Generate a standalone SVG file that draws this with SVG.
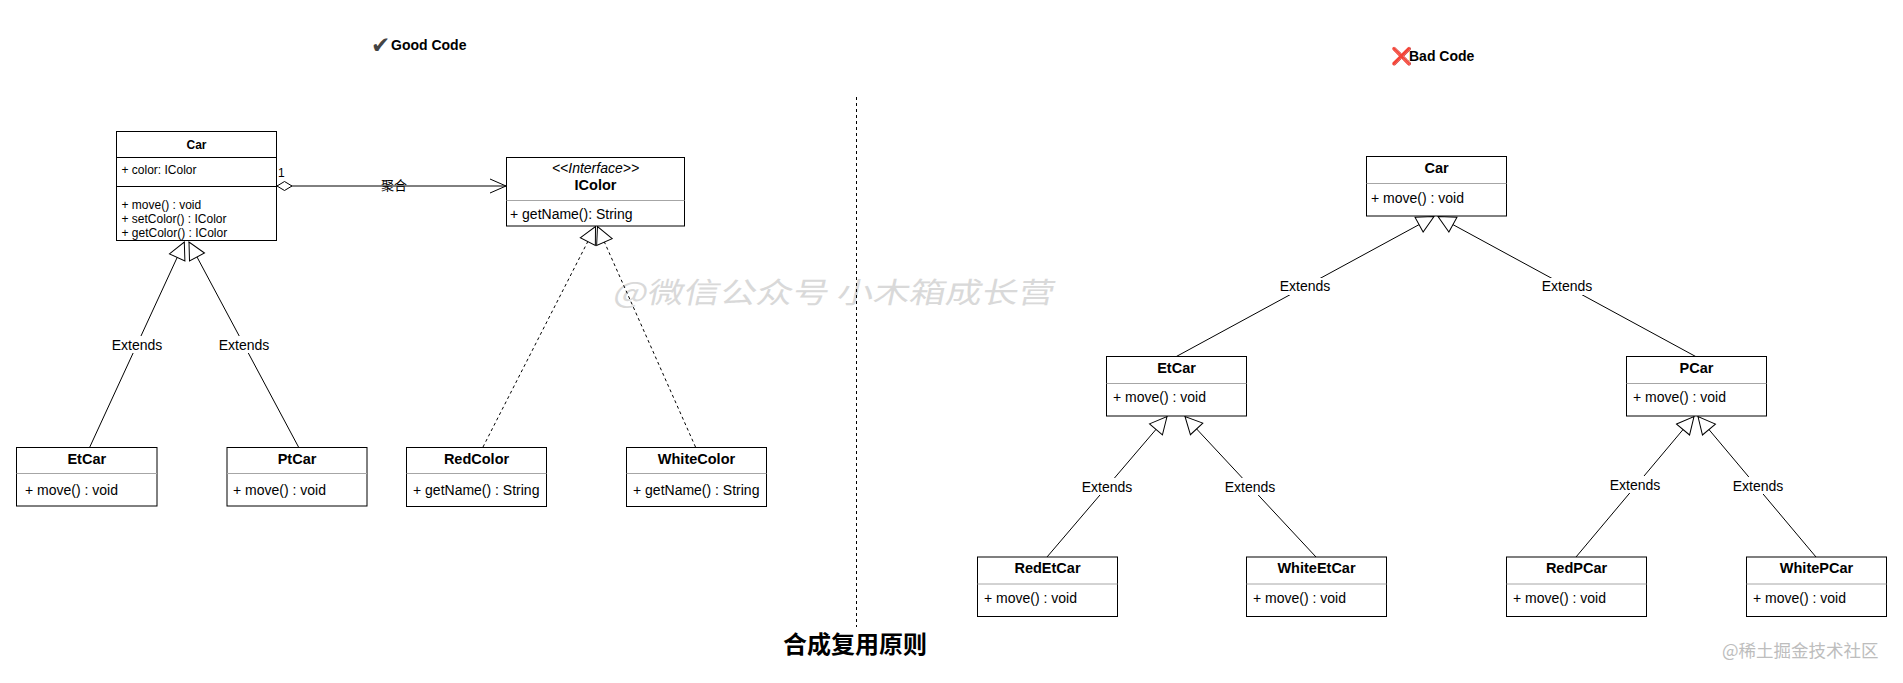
<svg xmlns="http://www.w3.org/2000/svg" width="1903" height="683" viewBox="0 0 1903 683">
<style>
text{font-family:"Liberation Sans",Arial,Helvetica,sans-serif;fill:#000}
.box{fill:#fff;stroke:#000;stroke-width:1}
.div{stroke:#a6a6a6;stroke-width:1}
.divb{stroke:#000;stroke-width:1}
.t{font-size:14.5px;font-weight:bold;text-anchor:middle}
.b{font-size:14px}
.s{font-size:12px}
.st{font-size:12px;font-weight:bold;text-anchor:middle}
.lbl{font-size:14px;text-anchor:middle}
.lbg{fill:#fff}
.edge{fill:none;stroke:#000;stroke-width:1}
.gen{marker-end:url(#gen)}
.dash{stroke-dasharray:3 3}
.cjk{font-family:"Noto Sans CJK SC","Noto Sans",sans-serif}
</style>
<defs>
<marker id="gen" markerUnits="userSpaceOnUse" markerWidth="20" markerHeight="20" refX="17" refY="8.5" orient="auto" overflow="visible">
<path d="M0,0 L17,8.5 L0,17 Z" fill="#fff" stroke="#000" stroke-width="1"/>
</marker>
<marker id="open" markerUnits="userSpaceOnUse" markerWidth="18" markerHeight="16" refX="16" refY="7" orient="auto" overflow="visible">
<path d="M0,0 L16,7 L0,14" fill="none" stroke="#000" stroke-width="1"/>
</marker>
<marker id="dia" markerUnits="userSpaceOnUse" markerWidth="16" markerHeight="10" refX="0" refY="4.5" orient="auto" overflow="visible">
<path d="M0,4.5 L7.5,0 L15,4.5 L7.5,9 Z" fill="#fff" stroke="#000" stroke-width="1"/>
</marker>
</defs>
<rect width="1903" height="683" fill="#fff"/>

<!-- watermark -->
<text class="cjk" transform="translate(612,303) skewX(-12) scale(1.25,1)" font-size="29" style="fill:#d9d9d9">@微信公众号 小木箱成长营</text>

<!-- titles -->
<g id="title-good">
<text x="371" y="53" style="font-family:'DejaVu Sans',sans-serif;font-size:23px;fill:#444">✔</text>
<text x="391" y="50" style="font-size:14px;font-weight:bold">Good Code</text>
</g>
<g id="title-bad">
<text x="1391" y="62" style="font-family:'DejaVu Sans',sans-serif;font-size:17px;fill:#e3201b">❌</text>
<text x="1409" y="60.5" style="font-size:14px;font-weight:bold">Bad Code</text>
</g>

<!-- connectors -->
<g id="connectors">
<line x1="856.5" y1="97" x2="856.5" y2="627" class="edge dash"/>
<path class="edge" d="M277,186 L506,186" marker-start="url(#dia)" marker-end="url(#open)"/>
<path class="edge gen" d="M89.8,447 L184.3,242"/>
<path class="edge gen" d="M298.5,447 L189,242"/>
<path class="edge gen dash" d="M483,447 L595.5,226.5"/>
<path class="edge gen dash" d="M695.5,447 L597.5,226.5"/>
<path class="edge gen" d="M1176,356.7 L1434,216.5"/>
<path class="edge gen" d="M1696,356.7 L1438,216.5"/>
<path class="edge gen" d="M1047,557 L1167,416.5"/>
<path class="edge gen" d="M1316,557 L1185,416.5"/>
<path class="edge gen" d="M1576,557 L1694,416.5"/>
<path class="edge gen" d="M1816,557 L1698,416.5"/>
<!-- labels -->
<text x="278" y="176.5" class="s">1</text>
<text x="394" y="189.5" class="cjk" font-size="13" text-anchor="middle">聚合</text>
<rect class="lbg" x="110" y="336" width="54" height="17"/><text x="137" y="349.5" class="lbl">Extends</text>
<rect class="lbg" x="217" y="336" width="54" height="17"/><text x="244" y="349.5" class="lbl">Extends</text>
<rect class="lbg" x="1278" y="278" width="54" height="17"/><text x="1305" y="291.3" class="lbl">Extends</text>
<rect class="lbg" x="1540" y="278" width="54" height="17"/><text x="1567" y="291.3" class="lbl">Extends</text>
<rect class="lbg" x="1080" y="478" width="54" height="17"/><text x="1107" y="491.5" class="lbl">Extends</text>
<rect class="lbg" x="1223" y="478" width="54" height="17"/><text x="1250" y="491.5" class="lbl">Extends</text>
<rect class="lbg" x="1608" y="476" width="54" height="17"/><text x="1635" y="489.8" class="lbl">Extends</text>
<rect class="lbg" x="1731" y="477" width="54" height="17"/><text x="1758" y="490.8" class="lbl">Extends</text>
</g>

<!-- Good code nodes -->
<g id="car-good">
<rect class="box" x="116.5" y="131.5" width="160" height="109"/>
<line class="divb" x1="116.5" y1="157.5" x2="276.5" y2="157.5"/>
<line class="divb" x1="116.5" y1="186.5" x2="276.5" y2="186.5"/>
<text x="196.5" y="149" class="st">Car</text>
<text x="121.5" y="174" class="s">+ color: IColor</text>
<text x="121.5" y="208.5" class="s">+ move() : void</text>
<text x="121.5" y="222.5" class="s">+ setColor() : IColor</text>
<text x="121.5" y="236.5" class="s">+ getColor() : IColor</text>
</g>
<g id="icolor">
<rect class="box" x="506.5" y="157.5" width="178" height="68.5"/>
<line class="div" x1="506.5" y1="200.5" x2="684.5" y2="200.5"/>
<text x="595.5" y="172.5" class="b" text-anchor="middle" font-style="italic">&lt;&lt;Interface&gt;&gt;</text>
<text x="595.5" y="190" class="t">IColor</text>
<text x="510" y="219" class="b">+ getName(): String</text>
</g>
<g id="etcar-good">
<rect class="box" x="16.5" y="447.5" width="140.5" height="58.5"/>
<line class="div" x1="16.5" y1="473.5" x2="157" y2="473.5"/>
<text x="86.75" y="464" class="t">EtCar</text>
<text x="25" y="494.5" class="b">+ move() : void</text>
</g>
<g id="ptcar">
<rect class="box" x="227" y="447.5" width="140" height="58.5"/>
<line class="div" x1="227" y1="473.5" x2="367" y2="473.5"/>
<text x="297" y="464" class="t">PtCar</text>
<text x="233" y="494.5" class="b">+ move() : void</text>
</g>
<g id="redcolor">
<rect class="box" x="406.5" y="447.5" width="140" height="59"/>
<line class="div" x1="406.5" y1="473.5" x2="546.5" y2="473.5"/>
<text x="476.5" y="464" class="t">RedColor</text>
<text x="413" y="495" class="b">+ getName() : String</text>
</g>
<g id="whitecolor">
<rect class="box" x="626.5" y="447.5" width="140" height="59"/>
<line class="div" x1="626.5" y1="473.5" x2="766.5" y2="473.5"/>
<text x="696.5" y="464" class="t">WhiteColor</text>
<text x="633" y="495" class="b">+ getName() : String</text>
</g>

<!-- Bad code nodes -->
<g id="car-bad">
<rect class="box" x="1366.5" y="156.5" width="140" height="59.5"/>
<line class="div" x1="1366.5" y1="183.5" x2="1506.5" y2="183.5"/>
<text x="1436.5" y="173" class="t">Car</text>
<text x="1371" y="202.5" class="b">+ move() : void</text>
</g>
<g id="etcar-bad">
<rect class="box" x="1106.5" y="356.5" width="140" height="59.5"/>
<line class="div" x1="1106.5" y1="383.5" x2="1246.5" y2="383.5"/>
<text x="1176.5" y="372.5" class="t">EtCar</text>
<text x="1113" y="402" class="b">+ move() : void</text>
</g>
<g id="pcar">
<rect class="box" x="1626.5" y="356.5" width="140" height="59.5"/>
<line class="div" x1="1626.5" y1="383.5" x2="1766.5" y2="383.5"/>
<text x="1696.5" y="372.5" class="t">PCar</text>
<text x="1633" y="402" class="b">+ move() : void</text>
</g>
<g id="redetcar">
<rect class="box" x="977.5" y="557" width="140" height="59.5"/>
<line class="div" x1="977.5" y1="584" x2="1117.5" y2="584"/>
<text x="1047.5" y="573" class="t">RedEtCar</text>
<text x="984" y="602.5" class="b">+ move() : void</text>
</g>
<g id="whiteetcar">
<rect class="box" x="1246.5" y="557" width="140" height="59.5"/>
<line class="div" x1="1246.5" y1="584" x2="1386.5" y2="584"/>
<text x="1316.5" y="573" class="t">WhiteEtCar</text>
<text x="1253" y="602.5" class="b">+ move() : void</text>
</g>
<g id="redpcar">
<rect class="box" x="1506.5" y="557" width="140" height="59.5"/>
<line class="div" x1="1506.5" y1="584" x2="1646.5" y2="584"/>
<text x="1576.5" y="573" class="t">RedPCar</text>
<text x="1513" y="602.5" class="b">+ move() : void</text>
</g>
<g id="whitepcar">
<rect class="box" x="1746.5" y="557" width="140" height="59.5"/>
<line class="div" x1="1746.5" y1="584" x2="1886.5" y2="584"/>
<text x="1816.5" y="573" class="t">WhitePCar</text>
<text x="1753" y="602.5" class="b">+ move() : void</text>
</g>

<!-- footer -->
<g id="footer">
<text x="855" y="652.5" class="cjk" font-size="24" font-weight="bold" text-anchor="middle">合成复用原则</text>
<text x="1722" y="657" class="cjk" font-size="17.5" style="fill:#bdbdbd">@稀土掘金技术社区</text>
</g>
</svg>
